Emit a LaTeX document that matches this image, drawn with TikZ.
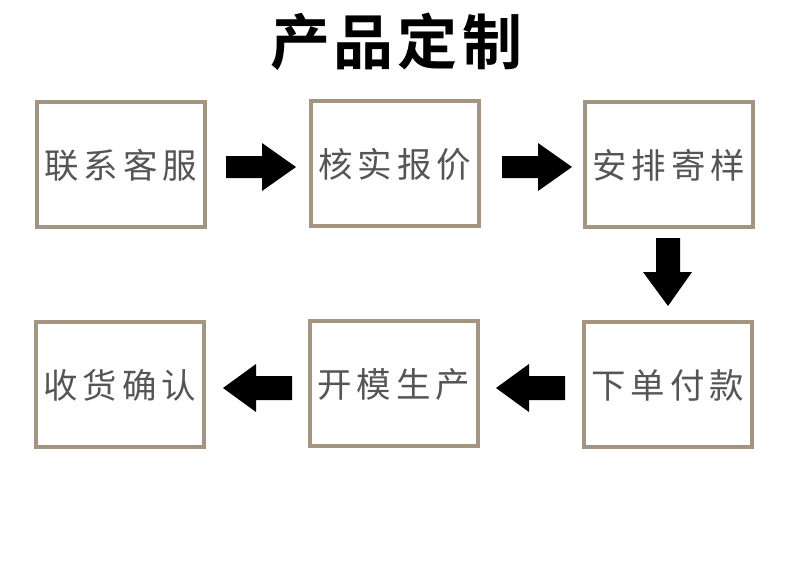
\documentclass[tikz,border=0pt]{standalone}
\usepackage{fontspec}
\newfontfamily\cjk{Noto Sans CJK SC}
\newfontfamily\cjkb{Noto Sans CJK SC Bold}
\newcommand{\spc}[4]{#1\hspace{5pt}#2\hspace{5pt}#3\hspace{5pt}#4}
\begin{document}
\begin{tikzpicture}[x=1pt,y=-1pt,
  box/.style={draw=boxc,line width=4pt,minimum width=168pt,minimum height=125pt,inner sep=0pt,font=\cjk\fontsize{34.5}{34.5}\selectfont,text=txtc,text depth=-4pt},
  blk/.style={fill=black,draw=none}]
\definecolor{boxc}{HTML}{A39580}
\definecolor{txtc}{HTML}{555555}
\useasboundingbox (0,0) rectangle (790,568);
\node[font=\cjkb\fontsize{60}{60}\selectfont] (t) at (396,42) {产\hspace{4pt}品\hspace{4pt}定\hspace{4pt}制};
\node[box] (a) at (121,164) {\spc{联}{系}{客}{服}};
\node[box] (b) at (395,163) {\spc{核}{实}{报}{价}};
\node[box] (c) at (669,164) {\spc{安}{排}{寄}{样}};
\node[box] (f) at (120,384) {\spc{收}{货}{确}{认}};
\node[box] (e) at (394,383) {\spc{开}{模}{生}{产}};
\node[box] (d) at (668,384) {\spc{下}{单}{付}{款}};
% right arrows
\fill[blk] (226,156) -- (262,156) -- (262,143) -- (296,167) -- (262,191) -- (262,178) -- (226,178) -- cycle;
\fill[blk] (502,156) -- (538,156) -- (538,143) -- (572,167) -- (538,191) -- (538,178) -- (502,178) -- cycle;
% down arrow
\fill[blk] (656,238) -- (680,238) -- (680,272) -- (692,272) -- (668,306) -- (643,272) -- (656,272) -- cycle;
% left arrows
\fill[blk] (292,376) -- (256,376) -- (256,364) -- (223,388) -- (256,412) -- (256,400) -- (292,400) -- cycle;
\fill[blk] (565,376) -- (529,376) -- (529,364) -- (496,388) -- (529,412) -- (529,400) -- (565,400) -- cycle;
\end{tikzpicture}
\end{document}
